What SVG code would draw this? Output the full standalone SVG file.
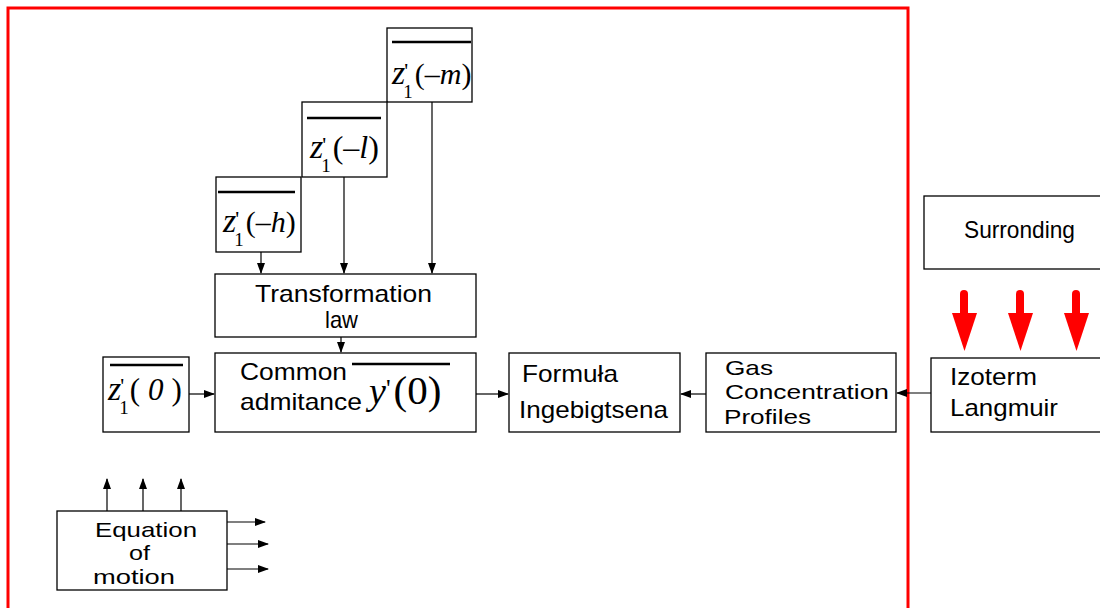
<svg xmlns="http://www.w3.org/2000/svg" width="1100" height="608" viewBox="0 0 1100 608">
<style>
.box{fill:#fff;stroke:#000;stroke-width:1.3}
.t{font-family:"Liberation Sans",Arial,sans-serif;font-size:24px;fill:#000}
.ts{font-family:"Liberation Sans",Arial,sans-serif;font-size:21px;fill:#000}
.m{font-family:"Liberation Serif","Times New Roman",serif;fill:#000}
.i{font-style:italic}
.ol{stroke:#000;stroke-width:2.5}
.c{stroke:#000;stroke-width:1.2;fill:none;marker-end:url(#ah)}
.red{fill:#ff0000}
</style>
<defs>
<marker id="ah" markerUnits="userSpaceOnUse" markerWidth="11" markerHeight="8" refX="10" refY="4" orient="auto">
<path d="M0,0 L11,4 L0,8 Z" fill="#000"/>
</marker>
</defs>
<rect width="1100" height="608" fill="#fff"/>
<rect x="8" y="8" width="900" height="640" fill="none" stroke="#ff0000" stroke-width="3"/>

<g id="z1m">
<rect class="box" x="387" y="28" width="85" height="74"/>
<line class="ol" x1="392" y1="42" x2="471" y2="42"/>
<text class="m" x="392" y="84" font-size="30"><tspan class="i" font-size="34">z</tspan><tspan font-size="22" dx="-1" dy="-6">'</tspan><tspan font-size="19" dx="-5" dy="20">1</tspan><tspan dx="2" dy="-14">(–</tspan><tspan class="i">m</tspan>)</text>
</g>

<g id="z1l">
<rect class="box" x="302" y="102" width="85" height="75"/>
<line class="ol" x1="307" y1="118" x2="381" y2="118"/>
<text class="m" x="310" y="158" font-size="32"><tspan class="i" font-size="34">z</tspan><tspan font-size="22" dx="-1" dy="-6">'</tspan><tspan font-size="19" dx="-5" dy="20">1</tspan><tspan dx="2" dy="-14">(–</tspan><tspan class="i">l</tspan>)</text>
</g>

<g id="z1h">
<rect class="box" x="216" y="177" width="85" height="75"/>
<line class="ol" x1="218" y1="192" x2="295" y2="192"/>
<text class="m" x="223" y="232" font-size="30"><tspan class="i" font-size="34">z</tspan><tspan font-size="22" dx="-1" dy="-6">'</tspan><tspan font-size="19" dx="-5" dy="20">1</tspan><tspan dx="2" dy="-14">(–</tspan><tspan class="i">h</tspan>)</text>
</g>

<g id="transformation">
<rect class="box" x="215" y="274" width="261" height="63"/>
<text class="t" x="255" y="302" textLength="177" lengthAdjust="spacingAndGlyphs">Transformation</text>
<text class="t" x="325" y="328" textLength="33" lengthAdjust="spacingAndGlyphs">law</text>
</g>

<g id="z10">
<rect class="box" x="103" y="357" width="86" height="75"/>
<line class="ol" x1="110" y1="365" x2="183" y2="365"/>
<text class="m" x="108" y="400" font-size="31"><tspan class="i" font-size="34">z</tspan><tspan font-size="22" dx="-1" dy="-7">'</tspan><tspan font-size="19" dx="-5" dy="21">1</tspan><tspan dx="1" dy="-14">(</tspan><tspan class="i" dx="8">0</tspan><tspan dx="8">)</tspan></text>
</g>

<g id="common">
<rect class="box" x="215" y="353" width="261" height="79"/>
<text class="t" x="240" y="380" textLength="107" lengthAdjust="spacingAndGlyphs">Common</text>
<text class="t" x="240" y="410" textLength="122" lengthAdjust="spacingAndGlyphs">admitance</text>
<line class="ol" x1="352" y1="364" x2="450" y2="364"/>
<text class="m" x="369" y="404" font-size="41"><tspan class="i" font-size="38">y</tspan><tspan font-size="26" dx="0" dy="-7">'</tspan><tspan dx="3" dy="7">(0)</tspan></text>
</g>

<g id="formula">
<rect class="box" x="509" y="353" width="171" height="79"/>
<text class="t" x="522" y="382" textLength="96" lengthAdjust="spacingAndGlyphs">Formuła</text>
<text class="t" x="519" y="418" textLength="149" lengthAdjust="spacingAndGlyphs">Ingebigtsena</text>
</g>

<g id="gas">
<rect class="box" x="706" y="353" width="190" height="79"/>
<text class="ts" x="725" y="375" textLength="48" lengthAdjust="spacingAndGlyphs">Gas</text>
<text class="ts" x="725" y="399" textLength="164" lengthAdjust="spacingAndGlyphs">Concentration</text>
<text class="ts" x="724" y="424" textLength="87" lengthAdjust="spacingAndGlyphs">Profiles</text>
</g>

<g id="surronding">
<rect class="box" x="924" y="196" width="190" height="73"/>
<text class="t" x="964" y="238" textLength="111" lengthAdjust="spacingAndGlyphs">Surronding</text>
</g>

<g id="izoterm">
<rect class="box" x="931" y="358" width="183" height="74"/>
<text class="t" x="950" y="385" textLength="87" lengthAdjust="spacingAndGlyphs">Izoterm</text>
<text class="t" x="950" y="416" textLength="108" lengthAdjust="spacingAndGlyphs">Langmuir</text>
</g>

<g id="equation">
<rect class="box" x="57" y="511" width="170" height="79"/>
<text class="ts" x="95" y="537" textLength="102" lengthAdjust="spacingAndGlyphs">Equation</text>
<text class="ts" x="129" y="560" textLength="21" lengthAdjust="spacingAndGlyphs">of</text>
<text class="ts" x="93" y="584" textLength="82" lengthAdjust="spacingAndGlyphs">motion</text>
</g>

<g id="connectors">
<line class="c" x1="432" y1="102" x2="432" y2="273"/>
<line class="c" x1="344" y1="177" x2="344" y2="273"/>
<line class="c" x1="261" y1="252" x2="261" y2="273"/>
<line class="c" x1="341" y1="337" x2="341" y2="352"/>
<line class="c" x1="189" y1="394" x2="214" y2="394"/>
<line class="c" x1="476" y1="394" x2="508" y2="394"/>
<line class="c" x1="706" y1="394" x2="681" y2="394"/>
<line class="c" x1="931" y1="393" x2="897" y2="393"/>
<line class="c" x1="107" y1="511" x2="107" y2="479"/>
<line class="c" x1="143" y1="511" x2="143" y2="479"/>
<line class="c" x1="181" y1="511" x2="181" y2="479"/>
<line class="c" x1="227" y1="522" x2="265" y2="522"/>
<line class="c" x1="227" y1="544" x2="268" y2="544"/>
<line class="c" x1="227" y1="569" x2="268" y2="569"/>
<g id="red-arrows">
<line x1="964" y1="294" x2="964" y2="316" stroke="#ff0000" stroke-width="8" stroke-linecap="round"/>
<path class="red" d="M952,313 L977,313 L964.5,351 Z"/>
<line x1="1020" y1="294" x2="1020" y2="316" stroke="#ff0000" stroke-width="8" stroke-linecap="round"/>
<path class="red" d="M1008,313 L1033,313 L1020.5,351 Z"/>
<line x1="1076" y1="294" x2="1076" y2="316" stroke="#ff0000" stroke-width="8" stroke-linecap="round"/>
<path class="red" d="M1064,313 L1089,313 L1076.5,351 Z"/>
</g>
</g>
</svg>
